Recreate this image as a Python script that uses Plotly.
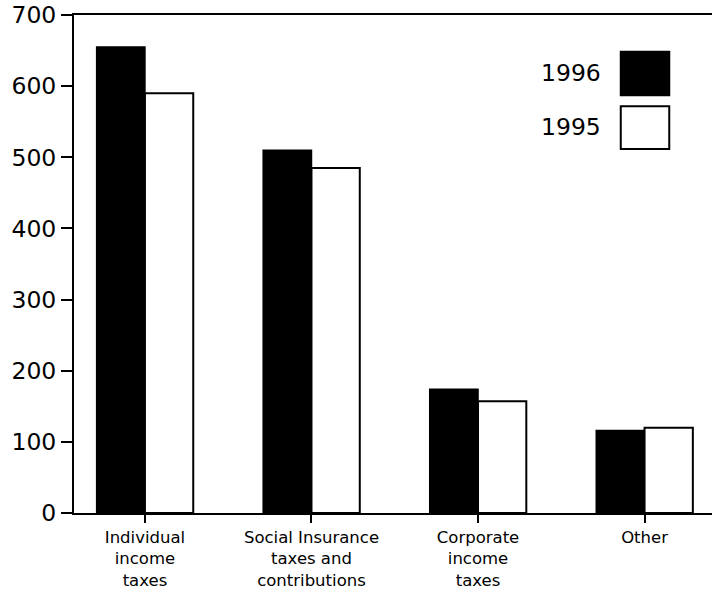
import plotly.graph_objects as go

categories = ["Individual<br>income<br>taxes", "Social Insurance<br>taxes and<br>contributions",
              "Corporate<br>income<br>taxes", "Other"]
values_1996 = [655, 510, 174, 116]
values_1995 = [590, 485, 157, 120]
series_names = ["1996", "1995"]

FONT = "DejaVu Sans, Verdana, sans-serif"

fig = go.Figure()
fig.add_trace(go.Bar(
    x=list(range(len(categories))), y=values_1996, name=series_names[0],
    marker=dict(color="black", line=dict(color="black", width=1.5)),
))
fig.add_trace(go.Bar(
    x=list(range(len(categories))), y=values_1995, name=series_names[1],
    marker=dict(color="white", line=dict(color="black", width=2)),
))

# legend drawn by hand: big swatches like the original
legend_boxes = [
    dict(fill="black", y0=0.839, y1=0.926, ty=0.884),
    dict(fill="white", y0=0.731, y1=0.817, ty=0.775),
]
shapes = []
annotations = []
for name, box in zip(series_names, legend_boxes):
    shapes.append(dict(type="rect", xref="paper", yref="paper",
                       x0=0.857, x1=0.933, y0=box["y0"], y1=box["y1"],
                       fillcolor=box["fill"], line=dict(color="black", width=2)))
    annotations.append(dict(text=name, xref="paper", yref="paper", x=0.829, y=box["ty"],
                            xanchor="right", yanchor="middle", showarrow=False,
                            font=dict(family=FONT, size=23.5, color="black")))

fig.update_layout(
    width=715, height=590,
    margin=dict(l=74, r=3, t=15, b=77),
    paper_bgcolor="white", plot_bgcolor="white",
    barmode="group", bargap=0.42, bargroupgap=0,
    showlegend=False,
    font=dict(family=FONT, color="black"),
    shapes=shapes, annotations=annotations,
)
fig.update_xaxes(
    range=[-0.426, 3.405], automargin=False,
    tickmode="array", tickvals=list(range(len(categories))), ticktext=categories,
    ticks="outside", ticklen=8, tickwidth=2, tickcolor="black",
    showline=True, linecolor="black", linewidth=2, mirror=True,
    showgrid=False, zeroline=False,
    tickfont=dict(family=FONT, size=16.5, color="black"),
)
fig.update_yaxes(
    range=[0, 700], automargin=False, tickvals=[0, 100, 200, 300, 400, 500, 600, 700],
    ticks="outside", ticklen=11, tickwidth=2, tickcolor="black",
    showline=True, linecolor="black", linewidth=2,
    showgrid=False, zeroline=False,
    tickfont=dict(family=FONT, size=23.5, color="black"),
)

# drop the default 8px page margin so the figure fills the window exactly
fig.write_html("out.html", config={"displayModeBar": False},
               post_script="document.body.style.margin='0';")
